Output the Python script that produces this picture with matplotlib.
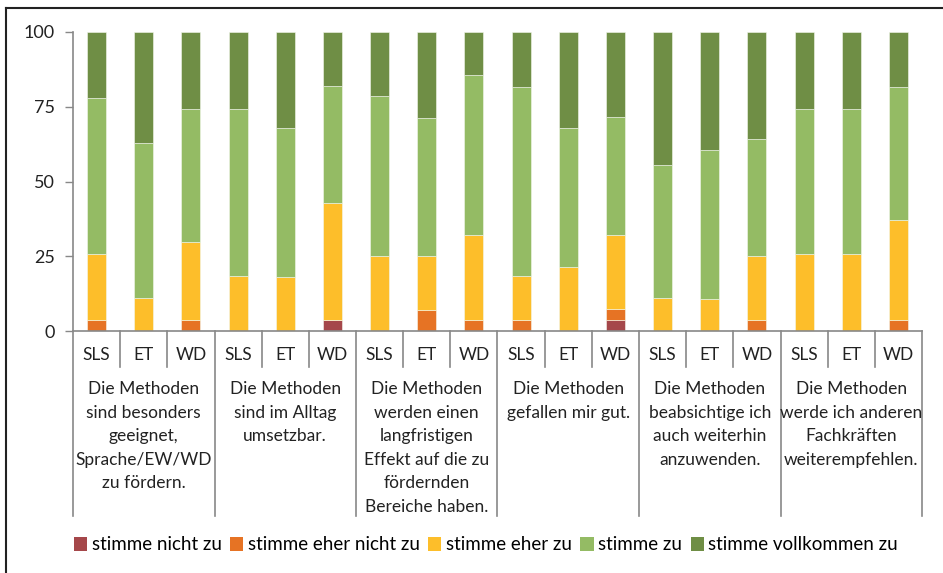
import matplotlib.pyplot as plt
import numpy as np
from matplotlib.lines import Line2D
from matplotlib.patches import Patch
import matplotlib.transforms as mtransforms

plt.rcParams["font.family"] = ["Lato", "DejaVu Sans"]

sub_labels = ["SLS", "ET", "WD"] * 6
group_labels = [
    "Die Methoden\nsind besonders\ngeeignet,\nSprache/EW/WD\nzu fördern.",
    "Die Methoden\nsind im Alltag\numsetzbar.",
    "Die Methoden\nwerden einen\nlangfristigen\nEffekt auf die zu\nfördernden\nBereiche haben.",
    "Die Methoden\ngefallen mir gut.",
    "Die Methoden\nbeabsichtige ich\nauch weiterhin\nanzuwenden.",
    "Die Methoden\nwerde ich anderen\nFachkräften\nweiterempfehlen.",
]
series_names = ["stimme nicht zu", "stimme eher nicht zu", "stimme eher zu",
                "stimme zu", "stimme vollkommen zu"]
nicht = [0, 0, 0, 0, 0, 3.6, 0, 0, 0, 0, 0, 3.6, 0, 0, 0, 0, 0, 0]
eher_nicht = [3.7, 0, 3.7, 0, 0, 0, 0, 7.1, 3.6, 3.7, 0, 3.6, 0, 0, 3.6, 0, 0, 3.7]
eher_zu = [22.2, 11.1, 25.9, 18.5, 17.9, 39.3, 25.0, 17.9, 28.5, 14.8, 21.4, 25.0,
           11.1, 10.7, 21.4, 25.9, 25.9, 33.3]
zu = [51.9, 51.9, 44.5, 55.6, 50.0, 39.2, 53.6, 46.4, 53.6, 63.0, 46.5, 39.3,
      44.5, 50.0, 39.3, 48.2, 48.2, 44.5]
vollkommen = [22.2, 37.0, 25.9, 25.9, 32.1, 17.9, 21.4, 28.6, 14.3, 18.5, 32.1, 28.6,
              44.4, 39.3, 35.7, 25.9, 25.9, 18.5]
colors = ["#A5474A", "#E67324", "#FDBE2A", "#94BB64", "#6F8E45"]

fig = plt.figure(figsize=(9.43, 5.73), dpi=100)
ax = fig.add_axes([73 / 943, 1 - 331 / 573, 849 / 943, 299 / 573])

x = np.arange(len(sub_labels))
bottom = np.zeros(len(x))
for name, vals, col in zip(series_names, [nicht, eher_nicht, eher_zu, zu, vollkommen], colors):
    vals = np.array(vals, dtype=float)
    ax.bar(x, vals, bottom=bottom, width=0.4, color=col, edgecolor="#f4f8ee",
           linewidth=0.4, label=name)
    bottom += vals

ax.set_xlim(-0.5, len(x) - 0.5)
ax.set_ylim(0, 100)
ax.set_yticks([0, 25, 50, 75, 100])
ax.tick_params(axis="y", length=6, width=1, color="#888888", labelsize=13, pad=7,
               labelcolor="#222222")
ax.set_xticks([])
for side in ["top", "right"]:
    ax.spines[side].set_visible(False)
for side in ["left", "bottom"]:
    ax.spines[side].set_color("#888888")
    ax.spines[side].set_linewidth(1.2)

trans = mtransforms.blended_transform_factory(ax.transData, ax.transAxes)
h = 299.0
for k in range(len(x) + 1):
    bx = k - 0.5
    y_end = -185 / h if k % 3 == 0 else -36 / h
    ax.add_line(Line2D([bx, bx], [0, y_end], transform=trans, color="#888888",
                       lw=1.2, clip_on=False))
for xi, lab in zip(x, sub_labels):
    ax.text(xi, -24 / h, lab, transform=trans, ha="center", va="center",
            fontsize=12.5, color="#222222")
for g, lab in enumerate(group_labels):
    ax.text(3 * g + 1, -50 / h, lab, transform=trans, ha="center", va="top",
            fontsize=12.5, color="#222222", linespacing=1.58)

handles = [Patch(facecolor=c, edgecolor="none") for c in colors]
fig.legend(handles, series_names, loc="center", bbox_to_anchor=(486 / 943, 1 - 545 / 573),
           ncol=5, frameon=False, fontsize=13.5, handlelength=0.7, handleheight=0.7,
           handletextpad=0.25, columnspacing=0.45)

fig.add_artist(Line2D([6 / 943, 1], [1 - 8 / 573, 1 - 8 / 573], transform=fig.transFigure,
                      color="#222222", lw=1.5))
fig.add_artist(Line2D([6 / 943, 6 / 943], [0, 1 - 8 / 573], transform=fig.transFigure,
                      color="#222222", lw=1.5))

fig.savefig("out.png", dpi=100)
